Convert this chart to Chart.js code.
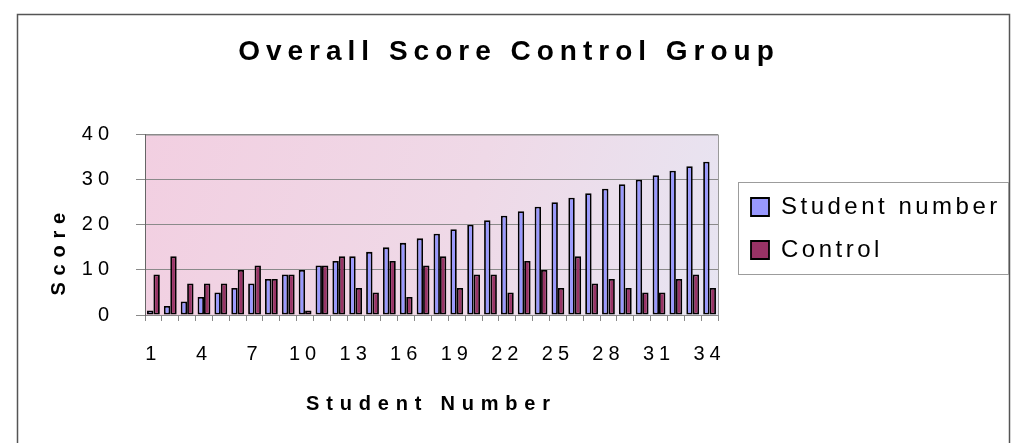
<!DOCTYPE html>
<html>
<head>
<meta charset="utf-8">
<script src="https://cdn.jsdelivr.net/npm/chart.js@4.4.1/dist/chart.umd.min.js"></script>
<style>
  html, body { margin: 0; padding: 0; background: #fff; overflow: hidden; }
  #wrap { position: relative; width: 1018px; height: 443px; }
</style>
</head>
<body>
<div id="wrap"><canvas id="myChart"></canvas></div>
<script>
// данные с картинки
const studentLabels = [1, 2, 3, 4, 5, 6, 7, 8, 9, 10, 11, 12, 13, 14, 15, 16, 17,
  18, 19, 20, 21, 22, 23, 24, 25, 26, 27, 28, 29, 30, 31, 32, 33, 34];
const studentNumberValues = [1, 2, 3, 4, 5, 6, 7, 8, 9, 10, 11, 12, 13, 14, 15, 16, 17,
  18, 19, 20, 21, 22, 23, 24, 25, 26, 27, 28, 29, 30, 31, 32, 33, 34];
const controlValues = [9, 13, 7, 7, 7, 10, 11, 8, 9, 1, 11, 13, 6, 5, 12, 4, 11,
  13, 6, 9, 9, 5, 12, 10, 6, 13, 7, 8, 6, 5, 5, 8, 9, 6];
const yTicks = [0, 10, 20, 30, 40];

const FONT = "'Liberation Sans Narrow', 'Liberation Sans', Arial, sans-serif";
const PLOT_RIGHT = 718;   // правый край области построения
const LEGEND_X = 751;     // левый край первого квадратика легенды
const LEGEND_Y = 207;     // центр первой строки легенды

// обёртка: временно меняет межбуквенный интервал и сдвиг
function wrapDraw(obj, name, sp, dx, dy) {
  const orig = obj[name];
  obj[name] = function (...args) {
    const c = this.ctx;
    const prev = c.letterSpacing;
    c.save();
    c.letterSpacing = sp;
    const shift = typeof dx === "function" ? dx.call(this) : [dx || 0, dy || 0];
    c.translate(shift[0], shift[1]);
    const r = orig.apply(this, args);
    c.restore();
    c.letterSpacing = prev;
    return r;
  };
}

function legendShift() {
  const b = this.legendHitBoxes && this.legendHitBoxes[0];
  if (!b) return [0, 0];
  return [LEGEND_X - b.left, LEGEND_Y - (b.top + b.height / 2)];
}

const excelLook = {
  id: "excelLook",
  afterInit(chart) {
    wrapDraw(chart.titleBlock, "draw", "6px", -14, 0);
    const lg = chart.legend;
    const origFit = lg.fit;
    lg.fit = function () {
      const c = this.ctx;
      const prev = c.letterSpacing;
      c.letterSpacing = "3.5px";
      origFit.call(this);
      c.letterSpacing = prev;
      this.width = chart.width - 12 - PLOT_RIGHT;
    };
    wrapDraw(lg, "draw", "3.5px", legendShift);
  },
  beforeUpdate(chart) {
    chart.ctx.letterSpacing = "5px";
  },
  afterUpdate(chart) {
    const x = chart.scales.x, y = chart.scales.y;
    if (x && !x._spaced) {
      wrapDraw(x, "drawTitle", "6.8px", 0, 6);
      x._spaced = true;
    }
    if (y && !y._spaced) {
      wrapDraw(y, "drawTitle", "6.8px", 0, 26);
      y._spaced = true;
    }
  },
  beforeDraw(chart) {
    const c = chart.ctx;
    const a = chart.chartArea;
    c.save();
    c.fillStyle = "#fff";
    c.fillRect(0, 0, chart.width, chart.height);
    // рамка всей диаграммы
    c.strokeStyle = "#555";
    c.lineWidth = 1.5;
    c.strokeRect(17.5, 14.5, 992, 470);
    // заливка области построения
    const g = c.createLinearGradient(a.left, a.top, a.right, a.bottom);
    g.addColorStop(0, "#f2cfe1");
    g.addColorStop(0.55, "#efd9e7");
    g.addColorStop(1, "#e7e5f2");
    c.fillStyle = g;
    c.fillRect(a.left, a.top, a.right - a.left, a.bottom - a.top);
    c.strokeStyle = "#9a9a9a";
    c.lineWidth = 1;
    c.strokeRect(a.left + 0.5, a.top + 0.5, a.right - a.left, a.bottom - a.top);
    c.restore();
    c.letterSpacing = "5px";
  },
  afterDraw(chart) {
    // рамка легенды
    const lg = chart.legend;
    const boxes = lg.legendHitBoxes;
    if (!boxes || !boxes.length) return;
    const [dx, dy] = legendShift.call(lg);
    const c = chart.ctx;
    const first = boxes[0], last = boxes[boxes.length - 1];
    const left = first.left + dx - 13;
    const top = first.top + dy - 13;
    const bottom = last.top + last.height + dy + 12;
    c.save();
    c.strokeStyle = "#9c9c9c";
    c.lineWidth = 1;
    c.strokeRect(Math.round(left) + 0.5, Math.round(top) + 0.5, 1008 - Math.round(left), Math.round(bottom - top));
    c.restore();
  },
};

const ctx = document.getElementById("myChart").getContext("2d");

const config = {
  type: "bar",
  data: {
    labels: studentLabels,
    datasets: [
      {
        label: "Student number",
        data: studentNumberValues,
        backgroundColor: "#9999ff",
        borderColor: "#000",
        borderWidth: 1.8,
        borderSkipped: false,
      },
      {
        label: "Control",
        data: controlValues,
        backgroundColor: "#993366",
        borderColor: "#000",
        borderWidth: 1.8,
        borderSkipped: false,
      },
    ],
  },
  options: {
    responsive: true,
    maintainAspectRatio: false,
    animation: false,
    layout: {
      padding: { top: 14, left: 40, right: 12, bottom: 20 },
    },
    datasets: {
      bar: { categoryPercentage: 0.76, barPercentage: 1.0 },
    },
    plugins: {
      title: {
        display: true,
        text: "Overall Score Control Group",
        color: "#000",
        font: { family: FONT, size: 28, weight: "bold" },
        padding: { top: 21, bottom: 66 },
      },
      legend: {
        position: "right",
        labels: {
          color: "#000",
          boxWidth: 18,
          boxHeight: 18,
          padding: 19,
          font: { family: FONT, size: 24 },
        },
      },
      tooltip: { enabled: false },
    },
    scales: {
      x: {
        grid: {
          offset: true,
          drawOnChartArea: false,
          tickLength: 6,
          color: "#888",
        },
        border: { color: "#888" },
        ticks: {
          autoSkip: false,
          maxRotation: 0,
          color: "#000",
          padding: 21,
          font: { family: FONT, size: 20 },
          callback: function (value, index) {
            return index % 3 === 0 ? studentLabels[index] : "";
          },
        },
        title: {
          display: true,
          text: "Student Number",
          color: "#000",
          font: { family: FONT, size: 20, weight: "bold" },
          padding: { top: 0, bottom: 13 },
        },
        afterFit(scale) {
          scale.height = 108;
        },
      },
      y: {
        min: 0,
        max: 40,
        afterBuildTicks(scale) {
          scale.ticks = yTicks.map(v => ({ value: v }));
        },
        grid: {
          color: "#8a8a8a",
          tickLength: 9,
        },
        border: { color: "#666" },
        ticks: {
          color: "#000",
          padding: 22,
          font: { family: FONT, size: 20 },
        },
        title: {
          display: true,
          text: "Score",
          color: "#000",
          font: { family: FONT, size: 20, weight: "bold" },
          padding: 7,
        },
        afterFit(scale) {
          scale.width = 105;
        },
      },
    },
  },
  plugins: [excelLook],
};

const scoreChart = new Chart(ctx, config);
</script>
</body>
</html>
